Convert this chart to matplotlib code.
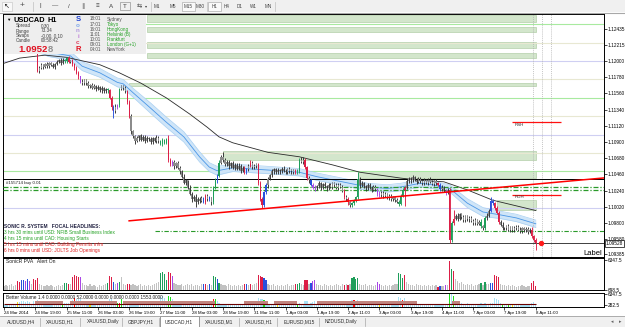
import numpy as np
import matplotlib.pyplot as plt
from matplotlib.patches import Rectangle
from matplotlib.lines import Line2D

plt.rcParams['font.family'] = ['Liberation Sans', 'DejaVu Sans']

# ---------------- data (prices in pips above 1.09000) ----------------
BASE = 1.09
PIP = 0.0001

closes = [
    322, 326, 329, 325, 331, 334, 330, 327, 332, 335, 331, 328, 324, 327, 321, 318, 314,
    287,
    291, 294, 292, 296, 293, 297, 295, 292, 296, 299, 301, 298, 302, 300, 304, 299, 301,
    296, 290, 284, 279, 272, 270, 274,
    270, 266, 268, 264, 266, 262, 265, 260, 263, 259, 262, 260,
    250, 238, 232,
    238, 240, 262, 266, 263, 259,
    245, 225, 205,
    198, 192,
    195, 199, 193, 197, 192, 196, 194, 190, 195, 192, 196,
    191, 188, 193, 189, 194,
    166,
    160, 163, 157, 161,
    155, 150, 143, 135, 138, 128, 120, 112, 116, 108, 113, 110, 114, 109, 117, 112, 115, 108,
    128, 138, 144, 162, 170, 166,
    160, 163, 157, 161, 155, 159,
    154, 158, 151, 155, 149, 153,
    158, 162, 156, 157, 160,
    135, 112, 104,
    122, 131, 140, 145,
    150, 153, 149, 152, 150, 154, 151, 149, 153, 150, 152, 149, 151,
    150, 165, 163, 166,
    156, 141, 138, 132, 128, 127,
    130, 134, 128, 133, 130, 127, 132, 129, 134, 131, 128, 132, 129,
    124, 116, 112, 108, 104,
    107, 110, 115,
    140, 131, 134,
    130, 127, 132, 128, 125, 129, 126,
    120, 118,
    121, 117, 119, 114, 117, 112, 115, 111,
    109, 106, 117, 125, 128,
    137, 141, 138, 142,
    139, 136, 140, 137, 134, 138, 135, 139, 136, 133, 137, 134, 132,
    126, 128, 124, 121, 125,
    57,
    80, 86,
    90, 86, 92, 88, 84, 89, 85,
    87, 83, 80, 84, 79, 82,
    76, 73, 87, 90, 97,
    110, 107, 100, 94, 82, 78, 73,
    73, 76, 71, 74, 70, 73, 75, 71, 69, 73, 70, 72, 68, 71,
    62, 57, 53,
]
wick_up = [
    3, 2, 4, 2, 3, 1, 2, 3, 2, 4, 2, 3, 2, 1, 3, 2, 2, 1, 2, 3,
    2, 1, 3, 2, 2, 3, 1, 2, 2, 3, 2, 1, 2, 3, 1, 2, 2, 3, 2, 1,
    3, 2, 2, 3, 1, 2, 3, 2, 2, 1, 3, 2, 2, 1, 2, 3, 2, 4, 2, 1,
    2, 1, 3, 2, 2, 3, 2, 2, 3, 1, 2, 3, 2, 2, 1, 3, 2, 2, 3, 2,
    2, 3, 1, 2, 6, 2, 3, 2, 2, 3, 2, 2, 3, 2, 1, 3, 2, 2, 3, 2,
    2, 3, 2, 2, 3, 2, 1, 2, 3, 2, 3, 2, 7, 2, 3, 2, 2, 3, 2, 2,
    3, 2, 2, 3, 2, 2, 3, 2, 3, 2, 2, 2, 3, 2, 3, 2, 2, 3, 2, 2,
    3, 2, 2, 3, 2, 2, 3, 2, 2, 3, 2, 3, 5, 4, 2, 2, 3, 2, 2, 3,
    2, 3, 2, 2, 3, 2, 2, 3, 2, 2, 3, 2, 2, 3, 2, 2, 3, 2, 2, 3,
    2, 9, 2, 3, 2, 2, 3, 2, 2, 3, 2, 2, 3, 2, 2, 3, 2, 2, 3, 2,
    2, 3, 2, 3, 2, 2, 3, 2, 2, 3, 2, 2, 3, 2, 2, 3, 2, 2, 3, 2,
    2, 3, 2, 2, 3, 2, 2, 3, 2, 3, 12, 2, 3, 2, 2, 3, 2, 2, 3, 2,
    2, 3, 2, 2, 3, 2, 2, 3, 2, 5, 2, 2, 3, 2, 2, 3, 2, 2, 3, 2,
    2, 3, 2, 2, 3, 2, 2, 3, 2, 2, 3, 2, 2,
]
wick_dn = [
    2, 3, 2, 3, 2, 2, 3, 2, 3, 2, 2, 3, 2, 2, 3, 2, 1, 2, 3, 2,
    3, 2, 2, 3, 2, 2, 3, 2, 2, 3, 2, 2, 3, 2, 2, 3, 2, 2, 3, 2,
    2, 3, 2, 2, 3, 2, 2, 3, 2, 2, 3, 2, 2, 3, 2, 4, 9, 2, 3, 2,
    2, 3, 2, 3, 2, 4, 2, 5, 2, 3, 2, 2, 3, 2, 2, 3, 2, 2, 3, 2,
    2, 3, 2, 2, 3, 2, 2, 3, 2, 2, 3, 2, 2, 3, 2, 2, 3, 2, 6, 2,
    3, 2, 2, 3, 2, 2, 4, 2, 2, 3, 2, 2, 3, 2, 2, 3, 2, 2, 3, 2,
    2, 3, 2, 2, 3, 2, 2, 3, 2, 2, 3, 2, 3, 2, 2, 3, 2, 2, 3, 2,
    2, 3, 2, 2, 3, 2, 2, 3, 2, 2, 3, 2, 2, 3, 2, 2, 3, 2, 2, 3,
    2, 2, 3, 2, 2, 3, 2, 2, 3, 2, 2, 3, 2, 2, 3, 2, 4, 2, 2, 3,
    2, 2, 3, 2, 2, 3, 2, 2, 3, 2, 2, 3, 2, 2, 3, 2, 2, 3, 2, 2,
    3, 2, 3, 2, 2, 22, 2, 2, 3, 2, 2, 3, 2, 2, 3, 2, 2, 3, 2, 2,
    3, 2, 2, 3, 2, 2, 3, 2, 4, 3, 2, 2, 3, 2, 2, 3, 2, 2, 3, 2,
    2, 3, 2, 2, 3, 2, 2, 3, 2, 2, 3, 2, 2, 3, 2, 2, 3, 2, 2, 3,
    2, 2, 3, 2, 2, 3, 2, 2, 3, 2, 2, 3, 10,
]
# tick volume, in hundreds
volume = [
    8, 10, 7, 9, 12, 8, 10, 19, 17, 21, 20, 18, 22, 19, 11, 22, 20, 24, 12, 9,
    8, 7, 10, 8, 9, 7, 6, 8, 9, 7, 10, 15, 14, 13, 11, 26, 32, 30, 27, 28,
    14, 10, 9, 8, 11, 7, 9, 8, 6, 10, 8, 9, 12, 15, 30, 27, 16, 12, 15, 16,
    28, 12, 10, 13, 11, 9, 12, 10, 8, 9, 11, 8, 10, 7, 9, 8, 10, 12, 14, 16,
    36, 38, 33, 20, 38, 35, 29, 14, 12, 10, 9, 11, 8, 10, 12, 9, 11, 8, 10, 9,
    8, 11, 13, 12, 9, 12, 10, 30, 28, 22, 14, 11, 9, 10, 8, 12, 9, 8, 10, 7,
    9, 8, 10, 13, 12, 9, 13, 10, 11, 14, 32, 30, 28, 24, 20, 12, 10, 9, 11, 8,
    9, 7, 10, 8, 9, 11, 8, 10, 9, 13, 12, 14, 11, 9, 21, 20, 12, 15, 18, 21,
    12, 9, 10, 8, 11, 9, 7, 10, 8, 9, 11, 10, 8, 12, 9, 11, 10, 13, 24, 26,
    22, 25, 13, 10, 9, 11, 8, 10, 9, 7, 10, 17, 11, 9, 8, 10, 7, 9, 8, 10,
    11, 12, 36, 33, 24, 31, 16, 12, 10, 9, 8, 11, 9, 10, 8, 9, 7, 10, 8, 9,
    7, 9, 6, 8, 7, 8, 9, 10, 62, 45, 40, 22, 18, 14, 16, 12, 10, 13, 9, 11,
    8, 10, 9, 11, 15, 10, 16, 12, 11, 15, 14, 32, 30, 26, 13, 10, 9, 8, 10, 7,
    9, 8, 6, 7, 8, 9, 7, 6, 8, 7, 15, 19, 8,
]
# SonicR PVA colour classes (bar indices)
red_bars = [7, 8, 15, 16, 17, 33, 35, 36, 37, 38, 54, 55, 63, 64, 84, 85, 103, 123, 126,
            130, 131, 132, 149, 154, 155, 174, 176, 205, 222, 228, 230, 251, 252, 253,
            270, 271, 272]
green_bars = [31, 32, 53, 59, 80, 81, 82, 83, 107, 108, 110, 150, 151, 178, 179, 180,
              181, 202, 203, 204, 229, 244, 246]
blue_bars = [9, 10, 12, 56, 102, 105, 109, 124, 133, 134, 157, 223, 249, 250]
purple_bars = [11, 13, 39, 58, 86, 158, 159, 191, 192, 226]

# Better Volume classes
bv_red = [36, 59, 107, 179, 204]
bv_green = [30, 58, 60, 84, 85, 108, 133, 150, 228, 230, 255, 258]
bv_yellow = [7, 44, 140, 192, 260]
bv_band = [(16, 30), (34, 58), (61, 108), (123, 135), (138, 150), (160, 211), (229, 233)]
bv_avg = 11
bv_band_top = 20

# moving averages (bar index, pips)
ma_idx = [0, 8, 21, 32, 49, 59, 70, 83, 95, 104, 110, 117, 135, 151, 168, 182, 203, 213,
          225, 237, 250, 272]
ma_val = [297, 304, 308, 305, 295, 284, 270, 250, 228, 210, 197, 189, 176, 170, 159, 149,
          141, 138, 136, 125, 111, 97]
dragon_idx = [17, 23, 34, 40, 49, 58, 61, 66, 75, 83, 92, 100, 105, 109, 117, 135, 151,
              160, 173, 186, 196, 203, 213, 219, 228, 237, 245, 254, 262, 272]
dragon_mid = [318, 312, 307, 293, 284, 271, 269, 257, 236, 217, 197, 170, 156, 151, 155,
              152, 149, 143, 136, 129, 127, 129, 134, 132, 127, 107, 95, 91, 87, 79]
dragon_half = [6, 6, 6, 6, 6, 6, 6, 6, 7, 7, 7, 7, 6, 6, 5, 5, 5, 5, 5, 5, 5, 5, 5, 5, 5,
               6, 6, 5, 5, 5]

# supply / demand zones: (start bar, low pips, high pips)
zones = [(73, 353, 362), (73, 339, 346), (73, 318, 326), (73, 304, 311), (64, 266, 270),
         (112, 166, 178), (181, 141, 151), (252, 98, 111)]
round_levels = [1.12, 1.11, 1.10]
half_levels = [1.125, 1.115, 1.105]
quarter_levels = [1.1225, 1.1175, 1.1125, 1.1075]
order_price = 1.10398
tp_levels = [1.10289, 1.10249]
dash_level = (77, 1.09692)
trend_idx = [64, 310]
trend_pips = [83, 142]
rsh = 217
rdh = 118
bid = 1.09528

price_ticks = [1.12435, 1.12215, 1.12000, 1.11780, 1.11560, 1.11340, 1.11120, 1.10900,
               1.10680, 1.10460, 1.10240, 1.10020, 1.09800, 1.09580, 1.09385]
time_labels = ['24 Mar 2014', '24 Mar 19:00', '25 Mar 11:00', '26 Mar 03:00',
               '26 Mar 19:00', '27 Mar 11:00', '28 Mar 03:00', '28 Mar 19:00',
               '31 Mar 11:00', '1 Apr 03:00', '1 Apr 19:00', '2 Apr 11:00',
               '3 Apr 03:00', '3 Apr 19:00', '4 Apr 11:00', '7 Apr 03:00',
               '7 Apr 19:00', '8 Apr 11:00']
time_step = 16

headline_title = 'SONIC R. SYSTEM   FOCAL HEADLINES:'
headlines = ['3 hrs 30 mins until USD: NFIB Small Business Index',
             '4 hrs 15 mins until CAD: Housing Starts',
             '5 hrs 15 mins until CAD: Building Permits m/m',
             '6 hrs 0 mins until USD: JOLTS Job Openings']
headline_up = [True, True, False, False]

sessions = ['Sydney', 'Tokyo', 'HongKong', 'Helsinki (B)', 'Frankfurt', 'London (G+1)', 'NewYork']
session_times = ['18:01', '17:01', '16:01', '11:01', '10:01', '09:01', '04:01']
session_open = [False, True, True, True, True, True, False]
tabs = ['AUDUSD,H4', 'XAUUSD,H1', 'XAUUSD,Daily', 'GBPJPY,H1', 'USDCAD,H1',
        'XAUUSD,M1', 'XAUUSD,H1', 'EURUSD,M15', 'NZDUSD,Daily']
periods = ['M1', 'M5', 'M15', 'M30', 'H1', 'H4', 'D1', 'W1', 'MN']

n = len(closes)
assert len(wick_up) == n and len(wick_dn) == n and len(volume) == n

# ---------------- layout helpers (pixels) ----------------
W, H = 625, 327
fig = plt.figure(figsize=(W / 100, H / 100), dpi=100)
fig.patch.set_facecolor('white')


def box(x0, y0, x1, y1):
    return [x0 / W, 1 - y1 / H, (x1 - x0) / W, (y1 - y0) / H]


def ftext(x, y, s, **kw):
    kw.setdefault('fontsize', 3.8)
    kw.setdefault('va', 'center')
    return fig.text(x / W, 1 - y / H, s, **kw)


def frect(x0, y0, x1, y1, **kw):
    fig.add_artist(Rectangle((x0 / W, 1 - y1 / H), (x1 - x0) / W, (y1 - y0) / H,
                             transform=fig.transFigure, **kw))


def fline(xs, ys, **kw):
    fig.add_artist(Line2D([x / W for x in xs], [1 - y / H for y in ys],
                          transform=fig.transFigure, **kw))


BAR_PX = 1.955      # pixels per bar
X0 = 4              # pixel of first bar
PX_PRICE = 0.0001358
xlim = ((3 - X0) / BAR_PX, (604 - X0) / BAR_PX)
AXIS_FS = 3.4


def p(v):
    return BASE + np.asarray(v, dtype=float) * PIP


def style_pane(a):
    a.set_xlim(*xlim)
    a.set_facecolor('white')
    for s in a.spines.values():
        s.set_color('black')
        s.set_linewidth(0.7)
    a.yaxis.tick_right()
    a.tick_params(axis='y', length=2, width=0.5, pad=0.8, labelsize=AXIS_FS, colors='black')
    a.tick_params(axis='x', bottom=False, labelbottom=False)


# ---------------- main price pane ----------------
ax = fig.add_axes(box(3, 14, 604, 257))
style_pane(ax)
ax.set_ylim(1.12435 - (257 - 29) * PX_PRICE, 1.12435 + (29 - 14) * PX_PRICE)
ax.set_yticks(price_ticks)
ax.set_yticklabels(['%.5f' % v for v in price_ticks])

idx = np.arange(n)
c = p(closes)
o = np.r_[c[0], c[:-1]]
hi = np.maximum(o, c) + np.array(wick_up) * PIP
lo = np.minimum(o, c) - np.array(wick_dn) * PIP

cat = ['g'] * n
for lst, k in ((red_bars, 'r'), (green_bars, 'G'), (blue_bars, 'b'), (purple_bars, 'p')):
    for i in lst:
        cat[i] = k
cand_col = {'g': '#8c8c8c', 'r': '#dc1e46', 'G': '#1e9e5a', 'b': '#2850dc', 'p': '#a846e6'}
wick_col = {'g': '#303030', 'r': '#dc1e46', 'G': '#1e9e5a', 'b': '#2850dc', 'p': '#a846e6'}
vol_col = {'g': '#c2c2c2', 'r': '#dc1e46', 'G': '#1e9e5a', 'b': '#2850dc', 'p': '#a846e6'}

# zones and levels
for start, zlo, zhi in zones:
    ax.add_patch(Rectangle((start, p(zlo)), n - 1 - start, (zhi - zlo) * PIP,
                           facecolor='#d3e6cc', edgecolor='#b3cfa9', lw=0.5, zorder=1))
for v in round_levels:
    ax.axhline(v, color='#cfcff2', lw=0.8, zorder=1)
for v in half_levels:
    ax.axhline(v, color='#a8eaa0', lw=0.8, zorder=1)
for v in quarter_levels:
    ax.axhline(v, color='#e8e8d2', lw=0.8, zorder=1)

# dragon band + slow MA
d_mid = p(dragon_mid)
d_half = np.array(dragon_half) * PIP
ax.fill_between(dragon_idx, d_mid - d_half, d_mid + d_half, color='#cfe5f8', lw=0, zorder=2)
ax.plot(dragon_idx, d_mid + d_half, color='#a9d0f2', lw=0.5, zorder=2)
ax.plot(dragon_idx, d_mid - d_half, color='#a9d0f2', lw=0.5, zorder=2)
ax.plot(dragon_idx, d_mid, color='#4a96e6', lw=0.6, zorder=2)
ax.plot(ma_idx, p(ma_val), color='#2a2a2a', lw=0.6, zorder=3)

# order / target lines
ax.axhline(order_price, color='black', lw=0.7, zorder=3)
for v in tp_levels:
    ax.axhline(v, color='#2a9a2a', lw=0.9, ls=(0, (4, 1.5, 1, 1.5)), zorder=3)
ax.hlines(dash_level[1], dash_level[0], xlim[1], color='#2a9a2a', lw=0.8,
          ls=(0, (4, 1.5, 1, 1.5)), zorder=3)
ax.axhline(bid, color='#202020', lw=0.6, zorder=3)

# candles
ax.vlines(idx, lo, hi, colors=[wick_col[k] for k in cat], lw=0.65, zorder=4)
ax.bar(idx, np.maximum(np.abs(c - o), 0.4 * PIP), bottom=np.minimum(o, c), width=0.6,
       color=[cand_col[k] for k in cat], lw=0, zorder=4)

# trend line, RSH / RDH
ax.plot(trend_idx, p(trend_pips), color='#ff0000', lw=1.1, zorder=5)
ax.hlines([p(rsh), p(rdh)], 260, 285, color='#ff1010', lw=0.9, zorder=5)
ax.text(261, p(rsh - 4), 'RSH', fontsize=3.2, color='#303030', va='center', zorder=6)
ax.text(261, p(rdh - 3), 'RDH', fontsize=3.2, color='#303030', va='center', zorder=6)

for xv in (270.6, 275.2, 279.8):
    ax.axvline(xv, color='#b0b0b0', lw=0.5, ls=(0, (1.5, 1.5)), zorder=2)
ax.plot([274.7], [bid], 'o', color='#ff1a1a', ms=2.8, zorder=6)
ax.text(296.5, p(39), 'Label', fontsize=5.5, color='black', va='center', clip_on=True, zorder=6)
ax.text(1, order_price - 5 * PIP, '#155714 buy 0.01', fontsize=3.2, color='#202020',
        va='center', zorder=6)

# ---------------- SonicR PVA pane ----------------
pva = fig.add_axes(box(3, 258, 604, 290))
style_pane(pva)
pva.set_ylim(-1, 68)
pva.bar(idx, volume, width=0.6, color=[vol_col[k] for k in cat], lw=0)
pva.axhline(0, color='#c8c8c8', lw=0.5, ls=(0, (1.5, 1.5)))
pva.set_yticks([64.5, 0])
pva.set_yticklabels(['6347.5', '698.5'])
pva.text(0.005, 0.88, 'SonicR PVA   Alert On', transform=pva.transAxes, fontsize=3.6,
         color='#202020', va='center')

# ---------------- Better Volume pane ----------------
bv = fig.add_axes(box(3, 293, 604, 307))
style_pane(bv)
bv.set_ylim(0, 50)
bv_cols = ['#a8e2f6'] * n
for lst, col in ((bv_red, '#ff1010'), (bv_green, '#20e020'), (bv_yellow, '#f0e020')):
    for i in lst:
        bv_cols[i] = col
bv.bar(idx, volume, width=0.6, color=bv_cols, lw=0, zorder=2)
for a0, a1 in bv_band:
    bv.fill_between([a0, a1], bv_avg, bv_band_top, color='#c08580', lw=0, zorder=3)
bv.hlines(bv_avg, 0, n - 1, color='#6a0000', lw=0.8, zorder=4)
bv.set_yticks([45, 6])
bv.set_yticklabels(['6347.5', '282.5'])
bv.text(0.005, 0.7, 'Better Volume 1.4 0.0000 0.0000 52.0000 0.0000 0.0000 0.0000 1553.0000',
        transform=bv.transAxes, fontsize=3.4, color='#202020', va='center', zorder=5)
bv.tick_params(axis='x', bottom=True, labelbottom=True, length=2, width=0.5, pad=1,
               labelsize=3.2)
bv.set_xticks(np.arange(len(time_labels)) * time_step)
bv.set_xticklabels(time_labels)
for t in bv.get_xticklabels():
    t.set_ha('left')

# ---------------- info panel ----------------
frect(3.5, 14.5, 146, 53.5, facecolor='#eeeeee', edgecolor='none', zorder=2)
ftext(6, 19.5, '\u25bc', fontsize=3.2, color='black')
ftext(13, 20, 'USDCAD', fontsize=5.3, weight='bold', color='black')
ftext(48, 20, 'H1', fontsize=5.3, weight='bold', color='black')
for y, k, v in ((26, 'Spread', '0.30'), (31, 'Range', '73.34'),
                (36, 'Swaps', '-0.00, 0.10'), (41, 'Candle', '00:58:42')):
    ftext(16, y, k, fontsize=3.3, color='#404040')
    ftext(41, y, v, fontsize=3.3, color='#404040')
for y, s, col, fs, wt in ((19.5, 'S', '#1c3fd0', 5.5, 'bold'), (25.5, 'o', '#7fa8ea', 4.5, 'bold'),
                          (31, 'n', '#b39ae0', 4.5, 'bold'), (37, 'i', '#c080d8', 4.5, 'bold'),
                          (42.5, 'c', '#e04060', 4.5, 'bold'), (49.5, 'R', '#e01020', 5.5, 'bold')):
    ftext(78, y, s, fontsize=fs, color=col, weight=wt, ha='center')
t1 = ftext(18, 49.5, '%.4f' % 1.0952, fontsize=6.8, weight='bold', color='#e01020')
fig.canvas.draw()
ext = t1.get_window_extent(renderer=fig.canvas.get_renderer())
ftext(ext.x1 + 0.3, 49.5, '8', fontsize=6.8, weight='bold', color='#909090')
rows_y = [19, 24.5, 29.5, 34.5, 39.5, 44.5, 49.5]
for y, tm, nm, op in zip(rows_y, session_times, sessions, session_open):
    ftext(90, y, tm, fontsize=3.3, color='#505050')
    ftext(107, y, nm, fontsize=3.3, color='#22a022' if op else '#505050')

# headlines
ftext(4, 227, headline_title, fontsize=3.5, weight='bold', color='#202040')
for k, (s, up) in enumerate(zip(headlines, headline_up)):
    ftext(4, 233 + k * 5.8, s, fontsize=3.4, color='#22a022' if up else '#e02020')

# current price box
ftext(606, 243.5, '%.5f' % bid, fontsize=AXIS_FS, color='black', zorder=5,
      bbox=dict(boxstyle='square,pad=0.15', facecolor='white', edgecolor='black', lw=0.5))

# ---------------- toolbar ----------------
frect(0, 0, 625, 12, facecolor='#f0f0f0', edgecolor='none')
fline([0, 625], [12.5, 12.5], color='#a8a8a8', lw=0.8)
frect(2, 1.5, 12, 10.5, facecolor='#f8f8f8', edgecolor='#c0c0c0', lw=0.4)
ftext(7, 6, '\u2196', fontsize=5, color='#202020', ha='center')
ftext(22, 6, '+', fontsize=6, color='#505050', ha='center')
for x, s in ((40, '|'), (55, '\u2014'), (69, '/'), (83, '\u2225'), (97, '\u2261'),
             (111, 'A'), (125, 'T'), (139, '\u21c6')):
    ftext(x, 6, s, fontsize=4.5, color='#404040', ha='center')
ftext(146, 6.5, '\u25be', fontsize=3, color='#404040', ha='center')
frect(120, 2, 130, 10, facecolor='none', edgecolor='#808080', lw=0.4)
for x in (33, 151, 207, 275):
    fline([x, x], [1.5, 10.5], color='#c8c8c8', lw=0.6)
px_periods = [157, 173, 188, 200, 214, 227, 240, 253, 268]
for x, s in zip(px_periods, periods):
    if s in ('M15', 'H1'):
        frect(x - 6.5, 1.5, x + 6.5, 10.5, facecolor='#fafafa', edgecolor='#a0a0a0', lw=0.4)
    ftext(x, 6, s, fontsize=3.3, color='#404040', ha='center')

# ---------------- tabs ----------------
frect(0, 316, 625, 327, facecolor='#f0f0f0', edgecolor='none')
fline([0, 625], [316.3, 316.3], color='#a0a0a0', lw=0.6)
tab_x = [21, 60, 103, 141, 179, 219, 259, 299, 341]
for x in (40, 80, 122, 159, 239, 277, 319, 365):
    fline([x, x], [318, 326], color='#a8a8a8', lw=0.5)
frect(160, 315.5, 199, 327, facecolor='white', edgecolor='#707070', lw=0.5)
for x, s in zip(tab_x, tabs):
    ftext(x, 321.5, s, fontsize=3.5, color='#303030', ha='center')
ftext(612, 321.5, '\u25c2', fontsize=3.5, color='#606060', ha='center')
ftext(620, 321.5, '\u25b8', fontsize=3.5, color='#606060', ha='center')

fig.savefig('out.png', dpi=100, facecolor='white')
